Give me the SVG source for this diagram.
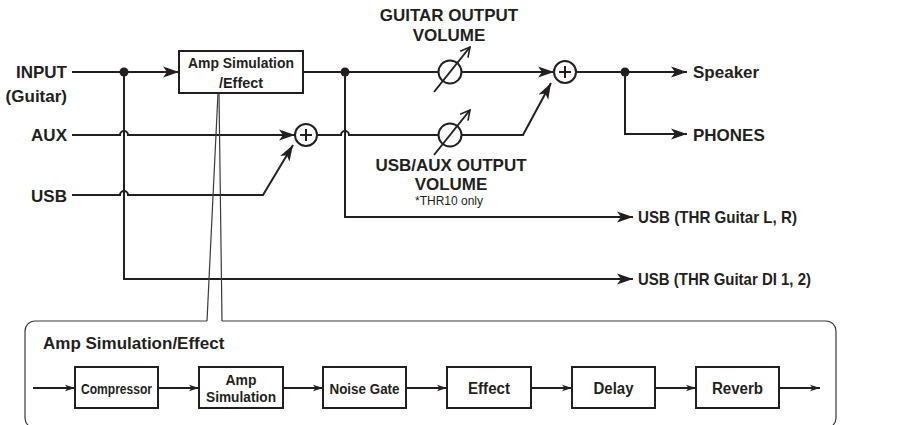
<svg xmlns="http://www.w3.org/2000/svg" width="907" height="425" viewBox="0 0 907 425">
<style>
.ln{fill:none;stroke:#231f20;stroke-width:2}
.thin{fill:none;stroke:#3a3a3a;stroke-width:1.2}
.box{fill:#fff;stroke:#231f20;stroke-width:2}
.t{font-family:"Liberation Sans",Arial,Helvetica,sans-serif;font-weight:bold;fill:#231f20}
.r{font-family:"Liberation Sans",Arial,Helvetica,sans-serif;fill:#231f20}
.dot{fill:#231f20}
</style>
<defs>
<marker id="ah" markerWidth="18" markerHeight="12" refX="16" refY="6" orient="auto" markerUnits="userSpaceOnUse"><path d="M0,0.5 L16,6 L0,11.5 L4,6 Z" fill="#231f20"/></marker>
<marker id="as" markerWidth="12" markerHeight="8" refX="10" refY="4" orient="auto" markerUnits="userSpaceOnUse"><path d="M0,0.8 L10,4 L0,7.2 L2.5,4 Z" fill="#231f20"/></marker>
<marker id="ao" markerWidth="12" markerHeight="12" refX="10" refY="6" orient="auto" markerUnits="userSpaceOnUse"><path d="M0.5,1 L10,6 L0.5,11" fill="none" stroke="#231f20" stroke-width="1.6"/></marker>
</defs>
<rect width="907" height="425" fill="#fff"/>

<g id="connectors">
<path class="ln" d="M72,72 H179" marker-end="url(#ah)"/>
<path class="ln" d="M303,72 H438.5"/>
<path class="ln" d="M461.5,72 H554" marker-end="url(#ah)"/>
<path class="ln" d="M576,72 H687" marker-end="url(#ah)"/>
<path class="ln" d="M625,72 V134 H687" marker-end="url(#ah)"/>
<path class="ln" d="M72,135 H120 A4,4 0 0 1 128,135 H295" marker-end="url(#ah)"/>
<path class="ln" d="M317,135 H341 A4,4 0 0 1 349,135 H438.5"/>
<path class="ln" d="M461.5,135 H523 L551,83" marker-end="url(#ah)"/>
<path class="ln" d="M72,195 H120 A4,4 0 0 1 128,195 H263 L293,145" marker-end="url(#ah)"/>
<path class="ln" d="M345,72 V217 H633" marker-end="url(#ah)"/>
<path class="ln" d="M124,72 V279 H633" marker-end="url(#ah)"/>
<circle class="dot" cx="124" cy="72" r="4.5"/>
<circle class="dot" cx="345" cy="72" r="4.5"/>
<circle class="dot" cx="625" cy="72" r="4.5"/>
<path class="thin" d="M218,93 L207,321"/>
<path class="thin" d="M219,93 L222,321"/>
<path class="ln" d="M33,388 H75" marker-end="url(#as)"/>
<path class="ln" d="M158,388 H199" marker-end="url(#as)"/>
<path class="ln" d="M283,388 H323" marker-end="url(#as)"/>
<path class="ln" d="M406,388 H447" marker-end="url(#as)"/>
<path class="ln" d="M531,388 H572" marker-end="url(#as)"/>
<path class="ln" d="M655,388 H696" marker-end="url(#as)"/>
<path class="ln" d="M779,388 H820" marker-end="url(#as)"/>
</g>

<g id="input">
<text class="t" x="67" y="78" font-size="17" text-anchor="end">INPUT</text>
<text class="t" x="67" y="102" font-size="17" text-anchor="end">(Guitar)</text>
</g>
<g id="aux"><text class="t" x="67" y="141" font-size="17" text-anchor="end">AUX</text></g>
<g id="usb-in"><text class="t" x="67" y="202" font-size="17" text-anchor="end">USB</text></g>

<g id="amp-box">
<rect class="box" x="179" y="51" width="124" height="42"/>
<text class="t" x="241" y="68" font-size="14.5" text-anchor="middle" textLength="106" lengthAdjust="spacingAndGlyphs">Amp Simulation</text>
<text class="t" x="241" y="88" font-size="14.5" text-anchor="middle" textLength="44" lengthAdjust="spacingAndGlyphs">/Effect</text>
</g>

<g id="sum1">
<circle class="box" cx="306" cy="135" r="11"/>
<path class="ln" d="M300,135 H312 M306,129 V141" stroke-width="1.8"/>
</g>
<g id="sum2">
<circle class="box" cx="565" cy="72" r="11"/>
<path class="ln" d="M559,72 H571 M565,66 V78" stroke-width="1.8"/>
</g>

<g id="guitar-volume">
<circle class="box" cx="450" cy="72" r="11.5"/>
<path class="ln" d="M434,92 L470,47" stroke-width="1.8" marker-end="url(#ao)"/>
<text class="t" x="449" y="21" font-size="17" text-anchor="middle">GUITAR OUTPUT</text>
<text class="t" x="449" y="41" font-size="17" text-anchor="middle">VOLUME</text>
</g>
<g id="usbaux-volume">
<circle class="box" cx="450" cy="135" r="11.5"/>
<path class="ln" d="M434,155 L470,110" stroke-width="1.8" marker-end="url(#ao)"/>
<text class="t" x="451" y="171" font-size="17" text-anchor="middle">USB/AUX OUTPUT</text>
<text class="t" x="451" y="190" font-size="17" text-anchor="middle">VOLUME</text>
<text class="r" x="449" y="205" font-size="12" text-anchor="middle">*THR10 only</text>
</g>

<g id="speaker"><text class="t" x="693" y="78" font-size="17">Speaker</text></g>
<g id="phones"><text class="t" x="693" y="141" font-size="17">PHONES</text></g>
<g id="usb-lr"><text class="t" x="638" y="223" font-size="16.3" textLength="159" lengthAdjust="spacingAndGlyphs">USB (THR Guitar L, R)</text></g>
<g id="usb-di"><text class="t" x="638" y="285" font-size="16.3" textLength="173" lengthAdjust="spacingAndGlyphs">USB (THR Guitar DI 1, 2)</text></g>

<g id="detail-panel">
<path class="thin" d="M207,321 H35 A10,10 0 0 0 25,331 V418 A10,10 0 0 0 35,428 H826 A10,10 0 0 0 836,418 V331 A10,10 0 0 0 826,321 H222"/>
<text class="t" x="43" y="349" font-size="17">Amp Simulation/Effect</text>
</g>
<g id="compressor">
<rect class="box" x="75" y="367" width="83" height="41"/>
<text class="t" x="116.5" y="393.5" font-size="14" text-anchor="middle" textLength="71" lengthAdjust="spacingAndGlyphs">Compressor</text>
</g>
<g id="amp-simulation">
<rect class="box" x="199" y="367" width="84" height="41"/>
<text class="t" x="241" y="385" font-size="14.5" text-anchor="middle" textLength="31" lengthAdjust="spacingAndGlyphs">Amp</text>
<text class="t" x="241" y="402" font-size="14.5" text-anchor="middle" textLength="70" lengthAdjust="spacingAndGlyphs">Simulation</text>
</g>
<g id="noise-gate">
<rect class="box" x="323" y="367" width="83" height="41"/>
<text class="t" x="364.5" y="393.5" font-size="14.5" text-anchor="middle" textLength="70" lengthAdjust="spacingAndGlyphs">Noise Gate</text>
</g>
<g id="effect">
<rect class="box" x="447" y="367" width="84" height="41"/>
<text class="t" x="489" y="393.5" font-size="16" text-anchor="middle" textLength="42" lengthAdjust="spacingAndGlyphs">Effect</text>
</g>
<g id="delay">
<rect class="box" x="572" y="367" width="83" height="41"/>
<text class="t" x="613.5" y="393.5" font-size="16" text-anchor="middle" textLength="40" lengthAdjust="spacingAndGlyphs">Delay</text>
</g>
<g id="reverb">
<rect class="box" x="696" y="367" width="83" height="41"/>
<text class="t" x="737.5" y="393.5" font-size="16" text-anchor="middle" textLength="51" lengthAdjust="spacingAndGlyphs">Reverb</text>
</g>
</svg>
